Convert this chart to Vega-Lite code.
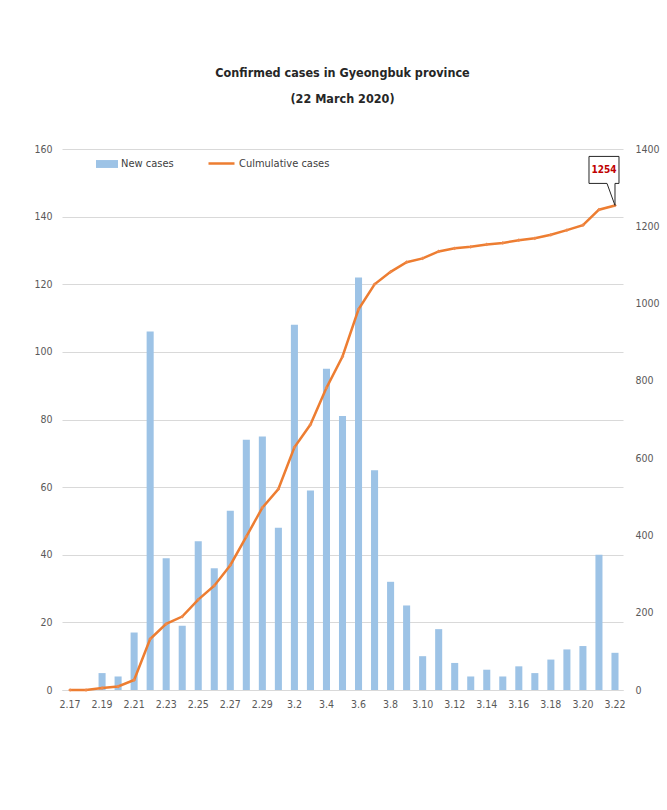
{
  "$schema": "https://vega.github.io/schema/vega-lite/v6.json",
  "width": 561,
  "height": 541,
  "autosize": "none",
  "padding": {"left": 62, "top": 149, "right": 44, "bottom": 120},
  "background": "white",
  "title": {
    "text": ["Confirmed cases in Gyeongbuk province", "(22 March 2020)"],
    "font": "Liberation Sans Narrow, DejaVu Sans Condensed, sans-serif",
    "fontSize": 12.5,
    "fontWeight": "bold",
    "color": "#262626",
    "lineHeight": 26,
    "offset": 39,
    "anchor": "middle"
  },
  "config": {
    "view": {"stroke": null},
    "font": "Liberation Sans Narrow, DejaVu Sans Condensed, sans-serif",
    "axis": {
      "labelFont": "Liberation Sans Narrow, DejaVu Sans Condensed, sans-serif",
      "labelFontSize": 10.5,
      "labelColor": "#595959",
      "ticks": false,
      "title": null
    },
    "legend": {
      "labelFont": "Liberation Sans Narrow, DejaVu Sans Condensed, sans-serif",
      "labelFontSize": 11,
      "labelColor": "#404040",
      "title": null
    }
  },
  "data": {
    "values": [
      {"date": "2.17", "new": 0, "cum": 0},
      {"date": "2.18", "new": 0, "cum": 0},
      {"date": "2.19", "new": 5, "cum": 5},
      {"date": "2.20", "new": 4, "cum": 9},
      {"date": "2.21", "new": 17, "cum": 26},
      {"date": "2.22", "new": 106, "cum": 132},
      {"date": "2.23", "new": 39, "cum": 171},
      {"date": "2.24", "new": 19, "cum": 190},
      {"date": "2.25", "new": 44, "cum": 234},
      {"date": "2.26", "new": 36, "cum": 270},
      {"date": "2.27", "new": 53, "cum": 323},
      {"date": "2.28", "new": 74, "cum": 397},
      {"date": "2.29", "new": 75, "cum": 472},
      {"date": "3.1", "new": 48, "cum": 520},
      {"date": "3.2", "new": 108, "cum": 628},
      {"date": "3.3", "new": 59, "cum": 687},
      {"date": "3.4", "new": 95, "cum": 782},
      {"date": "3.5", "new": 81, "cum": 863},
      {"date": "3.6", "new": 122, "cum": 985},
      {"date": "3.7", "new": 65, "cum": 1050},
      {"date": "3.8", "new": 32, "cum": 1082},
      {"date": "3.9", "new": 25, "cum": 1107},
      {"date": "3.10", "new": 10, "cum": 1117},
      {"date": "3.11", "new": 18, "cum": 1135},
      {"date": "3.12", "new": 8, "cum": 1143},
      {"date": "3.13", "new": 4, "cum": 1147},
      {"date": "3.14", "new": 6, "cum": 1153},
      {"date": "3.15", "new": 4, "cum": 1157},
      {"date": "3.16", "new": 7, "cum": 1164},
      {"date": "3.17", "new": 5, "cum": 1169},
      {"date": "3.18", "new": 9, "cum": 1178},
      {"date": "3.19", "new": 12, "cum": 1190},
      {"date": "3.20", "new": 13, "cum": 1203},
      {"date": "3.21", "new": 40, "cum": 1243},
      {"date": "3.22", "new": 11, "cum": 1254}
    ]
  },
  "encoding": {
    "x": {
      "field": "date",
      "type": "ordinal",
      "sort": null,
      "scale": {"paddingInner": 0.56, "paddingOuter": 0.28},
      "axis": {
        "labelAngle": 0,
        "labelPadding": 9,
        "domainColor": "#d9d9d9",
        "grid": false,
        "values": ["2.17","2.19","2.21","2.23","2.25","2.27","2.29","3.2","3.4","3.6","3.8","3.10","3.12","3.14","3.16","3.18","3.20","3.22"]
      }
    }
  },
  "layer": [
    {
      "mark": {"type": "bar"},
      "encoding": {
        "y": {
          "field": "new",
          "type": "quantitative",
          "scale": {"domain": [0, 160]},
          "axis": {
            "orient": "left",
            "values": [0, 20, 40, 60, 80, 100, 120, 140, 160],
            "grid": true,
            "gridColor": "#d9d9d9",
            "domain": false,
            "labelPadding": 10
          }
        },
        "color": {
          "datum": "New cases",
          "scale": {"domain": ["New cases"], "range": ["#9dc3e6"]},
          "legend": {
            "orient": "none",
            "legendX": 34,
            "legendY": 4,
            "symbolType": "M-1,-0.36H1V0.36H-1Z",
            "symbolSize": 484,
            "symbolStrokeWidth": 0,
            "labelOffset": 3
          }
        }
      }
    },
    {
      "mark": {"type": "line", "strokeWidth": 2.5},
      "encoding": {
        "y": {
          "field": "cum",
          "type": "quantitative",
          "scale": {"domain": [0, 1400]},
          "axis": {
            "orient": "right",
            "values": [0, 200, 400, 600, 800, 1000, 1200, 1400],
            "format": "d",
            "grid": false,
            "domain": false,
            "labelPadding": 12
          }
        },
        "stroke": {
          "datum": "Culmulative cases",
          "scale": {"domain": ["Culmulative cases"], "range": ["#ed7d31"]},
          "legend": {
            "orient": "none",
            "legendX": 145,
            "legendY": 0,
            "symbolType": "M-1,0H1",
            "symbolSize": 676,
            "symbolStrokeWidth": 2.5,
            "labelOffset": 3
          }
        }
      }
    },
    {
      "mark": {"type": "point", "shape": "diamond", "filled": true, "size": 14, "color": "#f08a4b", "opacity": 1},
      "encoding": {
        "y": {"field": "cum", "type": "quantitative", "scale": {"domain": [0, 1400]}, "axis": null}
      }
    },
    {
      "transform": [{"filter": "datum.date == '3.22'"}],
      "mark": {
        "type": "point",
        "shape": "M-26,-49L4,-49L4,-22L0,-22L0,0L-8,-22L-26,-22Z",
        "size": 4,
        "fill": "white",
        "stroke": "#262626",
        "strokeWidth": 1,
        "filled": false,
        "opacity": 1,
        "fillOpacity": 1
      },
      "encoding": {
        "y": {"field": "cum", "type": "quantitative", "scale": {"domain": [0, 1400]}, "axis": null}
      }
    },
    {
      "transform": [{"filter": "datum.date == '3.22'"}],
      "mark": {
        "type": "text",
        "dx": -11,
        "dy": -35,
        "fontSize": 10,
        "fontWeight": "bold",
        "color": "#c00000",
        "font": "Liberation Sans Narrow, DejaVu Sans Condensed, sans-serif"
      },
      "encoding": {
        "y": {"field": "cum", "type": "quantitative", "scale": {"domain": [0, 1400]}, "axis": null},
        "text": {"field": "cum", "type": "quantitative", "format": "d"}
      }
    }
  ],
  "resolve": {"scale": {"y": "independent"}}
}
